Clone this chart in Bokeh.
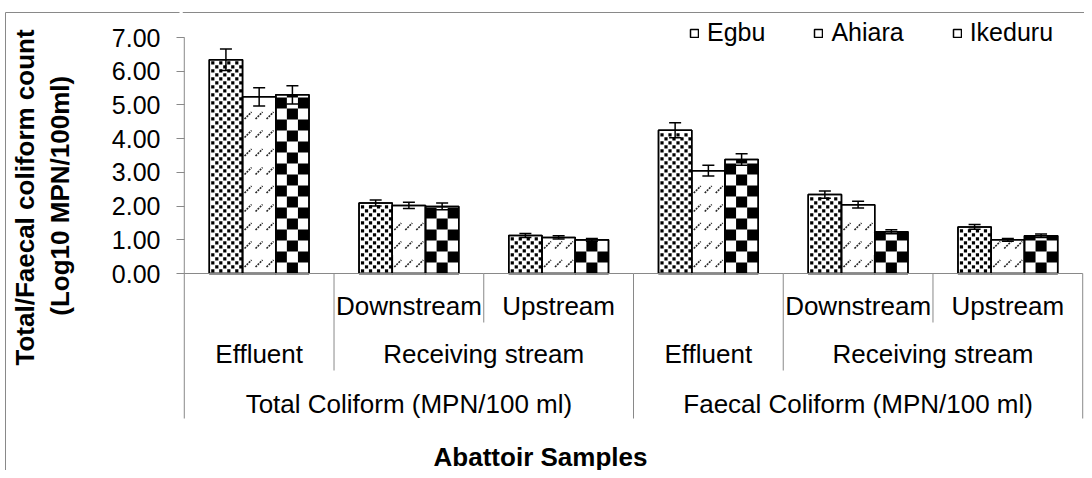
import math
from bokeh.plotting import figure
from bokeh.models import (FactorRange, Range1d, ColumnDataSource, FixedTicker,
                          NumeralTickFormatter, Whisker, TeeHead, Legend, LegendItem,
                          Title, Span, LinearAxis)
from bokeh.transform import dodge
from bokeh.core.properties import value
from bokeh.embed import file_html
from bokeh.resources import INLINE

# ---------------- data ----------------
groups = ["Total Coliform (MPN/100 ml)", "Faecal Coliform (MPN/100 ml)"]
sample_types = ["Effluent", "Receiving stream", "Receiving stream"]
sites = ["", "Downstream", "Upstream"]
series = ["Egbu", "Ahiara", "Ikeduru"]

egbu = [6.34, 2.09, 1.13, 4.25, 2.34, 1.38]
ahiara = [5.24, 2.02, 1.07, 3.05, 2.04, 1.00]
ikeduru = [5.30, 1.99, 1.00, 3.38, 1.24, 1.12]
egbu_err = [0.32, 0.09, 0.06, 0.22, 0.11, 0.07]
ahiara_err = [0.27, 0.09, 0.05, 0.16, 0.10, 0.04]
ikeduru_err = [0.27, 0.10, 0.04, 0.17, 0.06, 0.05]

y_ticks = [0, 1, 2, 3, 4, 5, 6, 7]
y_title_1 = "Total/Faecal coliform count"
y_title_2 = "(Log10 MPN/100ml)"
x_title = "Abattoir Samples"

# ---------------- layout / styling ----------------
FONT = "Liberation Sans"
GRAY = "#898989"
W, H = 1084, 470
BL = 182                      # frame left (px)
PAD = 0.004                   # factor range padding (fraction)
XPX = (W - BL) / (6 * (1 + PAD))   # px per category unit
PX = 236.0 / 7.0              # px per y unit
Y0 = 273.0                    # px row of value 0

def yv(py):
    return (Y0 - py) / PX

factors = [(g, t, s) for g in groups for t, s in zip(sample_types, sites)]

p = figure(width=W, height=H,
           x_range=FactorRange(*factors, factor_padding=0, subgroup_padding=0,
                               group_padding=0, range_padding=PAD),
           y_range=Range1d(yv(H), yv(0)),
           output_backend="svg", toolbar_location=None,
           min_border_left=BL, min_border_top=0, min_border_right=0,
           min_border_bottom=0)
p.outline_line_color = None
p.xgrid.visible = False
p.ygrid.visible = False
p.xaxis.visible = False
p.background_fill_color = "white"
p.border_fill_color = "white"

ya = p.yaxis[0]
ya.ticker = FixedTicker(ticks=y_ticks)
ya.formatter = NumeralTickFormatter(format="0.00")
ya.major_label_text_font = FONT
ya.major_label_text_font_size = "25px"
ya.major_label_text_color = "black"
ya.major_label_standoff = 16
ya.major_tick_out = 6
ya.major_tick_in = 2
ya.minor_tick_line_color = None
ya.major_tick_line_color = GRAY
ya.axis_line_color = None
ya.axis_label = "\u00a0" * 11 + y_title_2
ya.axis_label_standoff = 34
ya.axis_label_text_font = FONT
ya.axis_label_text_font_size = "26px"
ya.axis_label_text_font_style = "bold"
ya.axis_label_text_color = "black"

ROW1, ROW2, ROW3 = yv(305), yv(353), yv(403)
SEP_SITE, SEP_TYPE, SEP_GROUP = yv(322), yv(370), yv(418)
XTITLE_Y = yv(456)

# ---------------- bars ----------------
bar_w = 0.222
offsets = [-bar_w, 0.0, bar_w]
all_vals = [egbu, ahiara, ikeduru]
all_errs = [egbu_err, ahiara_err, ikeduru_err]
renderers = []
sources = []
for vals, errs, off in zip(all_vals, all_errs, offsets):
    src = ColumnDataSource(dict(x=factors, top=vals,
                                upper=[v + e for v, e in zip(vals, errs)],
                                lower=[v - e for v, e in zip(vals, errs)]))
    sources.append(src)
    r = p.vbar(x=dodge("x", off, range=p.x_range), top="top", bottom=0, width=bar_w,
               source=src, fill_color="white", line_color="black", line_width=1.5)
    renderers.append(r)

bar_px = bar_w * XPX

# Egbu fill: staggered small black squares
sq_w, sq_h = 3.2 / XPX, 3.2 / PX
col_even = [3.5, 11.5, 19.5, 27.5]
col_odd = [7.5, 15.5, 23.5, 31.5]
for parity, cols in ((0, col_even), (1, col_odd)):
    for cpx in cols:
        if cpx + 1.5 > bar_px:
            continue
        xs, bs, ts = [], [], []
        for f, top in zip(factors, egbu):
            top_px = top * PX
            r = parity
            while 1 + 4 * r + 3 <= top_px - 1:
                xs.append(f)
                bs.append((1 + 4 * r) / PX)
                ts.append((1 + 4 * r) / PX + sq_h)
                r += 2
        p.vbar(x=dodge("x", offsets[0] - bar_w / 2 + cpx / XPX, range=p.x_range),
               width=sq_w, bottom="b", top="t",
               source=ColumnDataSource(dict(x=xs, b=bs, t=ts)),
               fill_color="black", line_color=None)

# Ahiara fill: rows of short dotted diagonal strokes
for cpx in [5.5, 16.5, 27.5]:
    xs, y0s, y1s = [], [], []
    for f, top in zip(factors, ahiara):
        top_px = top * PX
        r = 0
        while 10 + 18.5 * r + 4 <= top_px:
            cy = 10 + 18.5 * r
            xs.append(f)
            y0s.append((cy - 3.5) / PX)
            y1s.append((cy + 3.5) / PX)
            r += 1
    base = offsets[1] - bar_w / 2
    p.segment(x0=dodge("x", base + (cpx - 3.5) / XPX, range=p.x_range),
              x1=dodge("x", base + (cpx + 3.5) / XPX, range=p.x_range),
              y0="y0", y1="y1", source=ColumnDataSource(dict(x=xs, y0=y0s, y1=y1s)),
              line_color="#262626", line_width=1.6, line_dash="2 1")

# Ikeduru fill: checkerboard
cw = bar_w / 3
ch = 11 / PX
for c in range(3):
    xs, bs, ts = [], [], []
    for f, top in zip(factors, ikeduru):
        for r in range(int(math.ceil(top / ch))):
            if (r + c) % 2 == 1:
                xs.append(f)
                bs.append(r * ch)
                ts.append(min((r + 1) * ch, top))
    p.vbar(x=dodge("x", offsets[2] + (c - 1) * cw, range=p.x_range), width=cw,
           bottom="b", top="t", source=ColumnDataSource(dict(x=xs, b=bs, t=ts)),
           fill_color="black", line_color=None)

# outlines on top of the fills
for src, off in zip(sources, offsets):
    p.vbar(x=dodge("x", off, range=p.x_range), top="top", bottom=0, width=bar_w,
           source=src, fill_color=None, line_color="black", line_width=1.5)

# error bars
for src, off in zip(sources, offsets):
    p.add_layout(Whisker(base=dodge("x", off, range=p.x_range), upper="upper", lower="lower",
                         source=src, level="annotation", line_color="black", line_width=1.5,
                         upper_head=TeeHead(size=12, line_color="black", line_width=1.5),
                         lower_head=TeeHead(size=12, line_color="black", line_width=1.5)))

# ---------------- category axis drawn in the frame ----------------
p.segment(x0=dodge("x", -0.5, range=p.x_range), x1=dodge("x", 0.5, range=p.x_range),
          y0=0, y1=0, source=ColumnDataSource(dict(x=factors)), line_color=GRAY, line_width=1)

site_factors = [f for f in factors if f[2]]
lab1 = ColumnDataSource(dict(x=site_factors, y=[ROW1] * len(site_factors),
                             t=[f[2] for f in site_factors]))
p.text(x="x", y="y", text="t", source=lab1, text_align="center", text_baseline="middle",
       text_font=value(FONT), text_font_size="26px", text_color="black")

mids = [(g, t) for g in groups for t in ["Effluent", "Receiving stream"]]
lab2 = ColumnDataSource(dict(x=mids, y=[ROW2] * len(mids), t=[m[1] for m in mids]))
p.text(x="x", y="y", text="t", source=lab2, text_align="center", text_baseline="middle",
       text_font=value(FONT), text_font_size="26px", text_color="black")

lab3 = ColumnDataSource(dict(x=groups, y=[ROW3] * len(groups), t=groups))
p.text(x="x", y="y", text="t", source=lab3, text_align="center", text_baseline="middle",
       text_font=value(FONT), text_font_size="26px", text_color="black")

sep_x = factors + [factors[-1]]
sep_off = [-0.5] * len(factors) + [0.5]
sep_top = [7] + [0] * (len(factors) - 1) + [0]
sep_bottom = [SEP_GROUP, SEP_TYPE, SEP_SITE, SEP_GROUP, SEP_TYPE, SEP_SITE, SEP_GROUP]
for i in range(len(sep_x)):
    s = ColumnDataSource(dict(x=[sep_x[i]], y0=[sep_top[i]], y1=[sep_bottom[i]]))
    p.segment(x0=dodge("x", sep_off[i], range=p.x_range), x1=dodge("x", sep_off[i], range=p.x_range),
              y0="y0", y1="y1", source=s, line_color=GRAY, line_width=1)

# x-axis title
p.text(x=[(540 - BL) / XPX - 6 * PAD / 2], y=[XTITLE_Y], text=[x_title], text_align="center",
       text_baseline="middle", text_font=value(FONT), text_font_size="26px",
       text_font_style="bold", text_color="black")

# ---------------- first line of y title ----------------
p.add_layout(Title(text=y_title_1, align="left", offset=105, standoff=4,
                   text_font=FONT, text_font_size="26px", text_font_style="bold",
                   text_color="black"), "left")

# ---------------- outer chart border (left edge + top edge) ----------------
TOP_BORDER = yv(12)
border_axis = LinearAxis(ticker=FixedTicker(ticks=[TOP_BORDER]), bounds=(yv(H), yv(11.5)),
                         major_label_text_font_size="0px", major_label_text_color=None,
                         major_label_standoff=0,
                         major_tick_out=0, major_tick_in=174, minor_tick_line_color=None,
                         axis_line_color=GRAY, major_tick_line_color=GRAY)
p.add_layout(border_axis, "left")
p.add_layout(Span(location=TOP_BORDER, dimension="width", line_color=GRAY, line_width=1))

# ---------------- legend ----------------
legend = Legend(items=[LegendItem(label=n, renderers=[r]) for n, r in zip(series, renderers)],
                orientation="horizontal", location=(689 - BL, H - 47),
                label_text_font=FONT, label_text_font_size="25px", label_text_color="black",
                glyph_width=10, glyph_height=10, label_standoff=8, spacing=48,
                padding=0, margin=0, border_line_color=None, background_fill_alpha=0)
p.add_layout(legend)

open("out.html", "w").write(file_html(p, INLINE))
